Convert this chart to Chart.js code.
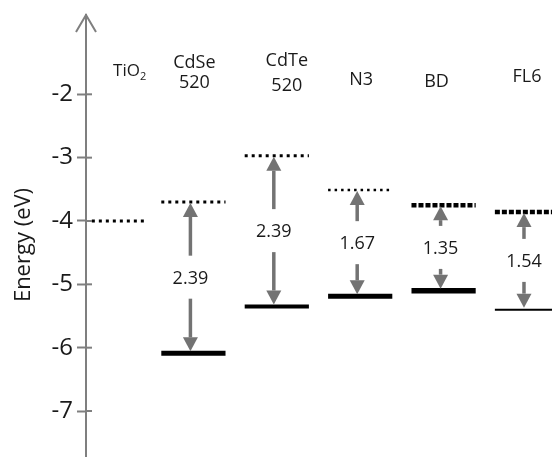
<!DOCTYPE html>
<html>
<head>
<meta charset="utf-8">
<script src="https://cdn.jsdelivr.net/npm/chart.js@4"></script>
<style>
  body { margin: 0; background: #fff; }
  #wrap { width: 552px; height: 457px; }
</style>
</head>
<body>
<div id="wrap"><canvas id="energyChart"></canvas></div>
<script>
/*chart data*/
const materials = ['TiO2', 'CdSe', 'CdTe', 'N3', 'BD', 'FL6'];
const subLabels = ['', '520', '520', '', '', ''];
const lumo = [-4.0, -3.70, -2.97, -3.51, -3.75, -3.86];
const homo = [null, -6.09, -5.35, -5.19, -5.10, -5.40];
const gapLabels = [null, '2.39', '2.39', '1.67', '1.35', '1.54'];
const yTicks = [-2, -3, -4, -5, -6, -7];
const yTitle = 'Energy (eV)';

/*styles and layout, kept apart from the data*/
const dotted = { dash: [3, 4], width: 3 };
const fineDot = { dash: [2.5, 4], width: 2.5 };
const dashed = { dash: [5, 2], width: 4.5 };
const lumoStyle = [dotted, dotted, dotted, fineDot, dashed, dashed];
const homoWidth = [0, 5, 4, 5, 5.5, 2];
const headerDx = [3, 1, 10, 1, -7, 0];
const headerY = [[71], [63, 83], [61, 86], [80], [81.5], [76.5]];
const halfWidth = 0.385;
const xMin = -0.288, xMax = 5.30;
const axisGrey = '#7f7f7f';
const arrowGrey = '#737373';
const textColor = '#1a1a1a';
const fontName = '"Open Sans", "DejaVu Sans", sans-serif';

/*build the level datasets*/
const datasets = [];
materials.forEach((m, i) => {
  const left = i === 0 ? xMin + 0.07 : i - halfWidth;
  const right = i === 0 ? 0.44 : i + halfWidth;
  datasets.push({
    label: m + ' LUMO',
    data: [{ x: left, y: lumo[i] }, { x: right, y: lumo[i] }],
    borderColor: '#000',
    borderWidth: lumoStyle[i].width,
    borderDash: lumoStyle[i].dash,
    borderCapStyle: 'butt',
    pointRadius: 0
  });
  if (homo[i] !== null) {
    datasets.push({
      label: m + ' HOMO',
      data: [{ x: i - halfWidth, y: homo[i] }, { x: i + halfWidth, y: homo[i] }],
      borderColor: '#000',
      borderWidth: homoWidth[i],
      pointRadius: 0
    });
  }
});

function arrow(ctx, x, y0, y1) {
  // shaft from y0, tip at y1
  const dir = y1 > y0 ? 1 : -1;
  const head = 14;
  ctx.strokeStyle = arrowGrey;
  ctx.fillStyle = arrowGrey;
  ctx.lineWidth = 3.5;
  ctx.setLineDash([]);
  ctx.beginPath();
  ctx.moveTo(x, y0);
  ctx.lineTo(x, y1 - dir * head);
  ctx.stroke();
  ctx.beginPath();
  ctx.moveTo(x, y1);
  ctx.lineTo(x - 7.5, y1 - dir * head);
  ctx.lineTo(x + 7.5, y1 - dir * head);
  ctx.closePath();
  ctx.fill();
}

/*arrows, gap values, headers, axis title and the axis arrow*/
const decorations = {
  id: 'decorations',
  afterDraw(chart) {
    const { ctx, scales: { x, y }, chartArea } = chart;
    ctx.save();
    // axis arrow head and the tick nubs right of the axis
    const ax = chartArea.left;
    ctx.strokeStyle = axisGrey;
    ctx.lineWidth = 2;
    ctx.beginPath();
    ctx.moveTo(ax - 10, chartArea.top + 17);
    ctx.lineTo(ax, chartArea.top);
    ctx.lineTo(ax + 10, chartArea.top + 17);
    ctx.stroke();
    yTicks.forEach(v => {
      const py = y.getPixelForValue(v);
      ctx.beginPath();
      ctx.moveTo(ax, py);
      ctx.lineTo(ax + 6, py);
      ctx.stroke();
    });

    // axis title
    ctx.save();
    ctx.translate(24, 245);
    ctx.rotate(-Math.PI / 2);
    ctx.fillStyle = textColor;
    ctx.font = '22px ' + fontName;
    ctx.textAlign = 'center';
    ctx.textBaseline = 'middle';
    ctx.fillText(yTitle, 0, 0);
    ctx.restore();

    // gap arrows with their values
    ctx.textAlign = 'center';
    ctx.textBaseline = 'middle';
    materials.forEach((m, i) => {
      if (homo[i] === null) return;
      const px = x.getPixelForValue(i) - 3;
      const top = y.getPixelForValue(lumo[i]);
      const bot = y.getPixelForValue(homo[i]);
      const mid = (top + bot) / 2;
      arrow(ctx, px, mid - 22, top + 1);
      arrow(ctx, px, mid + 21, bot - 2);
      ctx.fillStyle = textColor;
      ctx.font = '18px ' + fontName;
      ctx.fillText(gapLabels[i], px, mid + 1);
    });

    // material headers
    ctx.fillStyle = textColor;
    materials.forEach((m, i) => {
      const px = x.getPixelForValue(i) + headerDx[i];
      const ys = headerY[i];
      if (m === 'TiO2') {
        ctx.font = '17px ' + fontName;
        ctx.textAlign = 'left';
        ctx.fillText('TiO', px, ys[0]);
        const w = ctx.measureText('TiO').width;
        ctx.font = '11px ' + fontName;
        ctx.fillText('2', px + w, ys[0] + 6);
        ctx.textAlign = 'center';
        return;
      }
      ctx.font = '18px ' + fontName;
      ctx.fillText(m, px, ys[0]);
      if (subLabels[i]) ctx.fillText(subLabels[i], px, ys[1]);
    });
    ctx.restore();
  }
};

const energyConfig = {
  type: 'line',
  data: { datasets },
  options: {
    responsive: true,
    maintainAspectRatio: false,
    animation: false,
    layout: { padding: { top: 15, right: 0, bottom: 0, left: 0 } },
    plugins: {
      legend: { display: false },
      tooltip: { enabled: false }
    },
    scales: {
      x: {
        type: 'linear',
        display: false,
        min: xMin,
        max: xMax
      },
      y: {
        type: 'linear',
        min: -7.726,
        max: -0.748,
        afterBuildTicks: scale => {
          scale.ticks = yTicks.map(v => ({ value: v }));
        },
        afterFit: scale => {
          scale.width = 86;
          scale.paddingTop = 0;
          scale.paddingBottom = 0;
        },
        grid: {
          drawOnChartArea: false,
          tickLength: 9,
          tickWidth: 2,
          tickColor: axisGrey
        },
        border: { color: axisGrey, width: 2 },
        ticks: {
          color: textColor,
          padding: 4,
          font: { family: fontName, size: 24 }
        }
      }
    }
  },
  plugins: [decorations]
};

/*create chart*/
var energyChart = new Chart(document.getElementById('energyChart'), energyConfig);
</script>
</body>
</html>
